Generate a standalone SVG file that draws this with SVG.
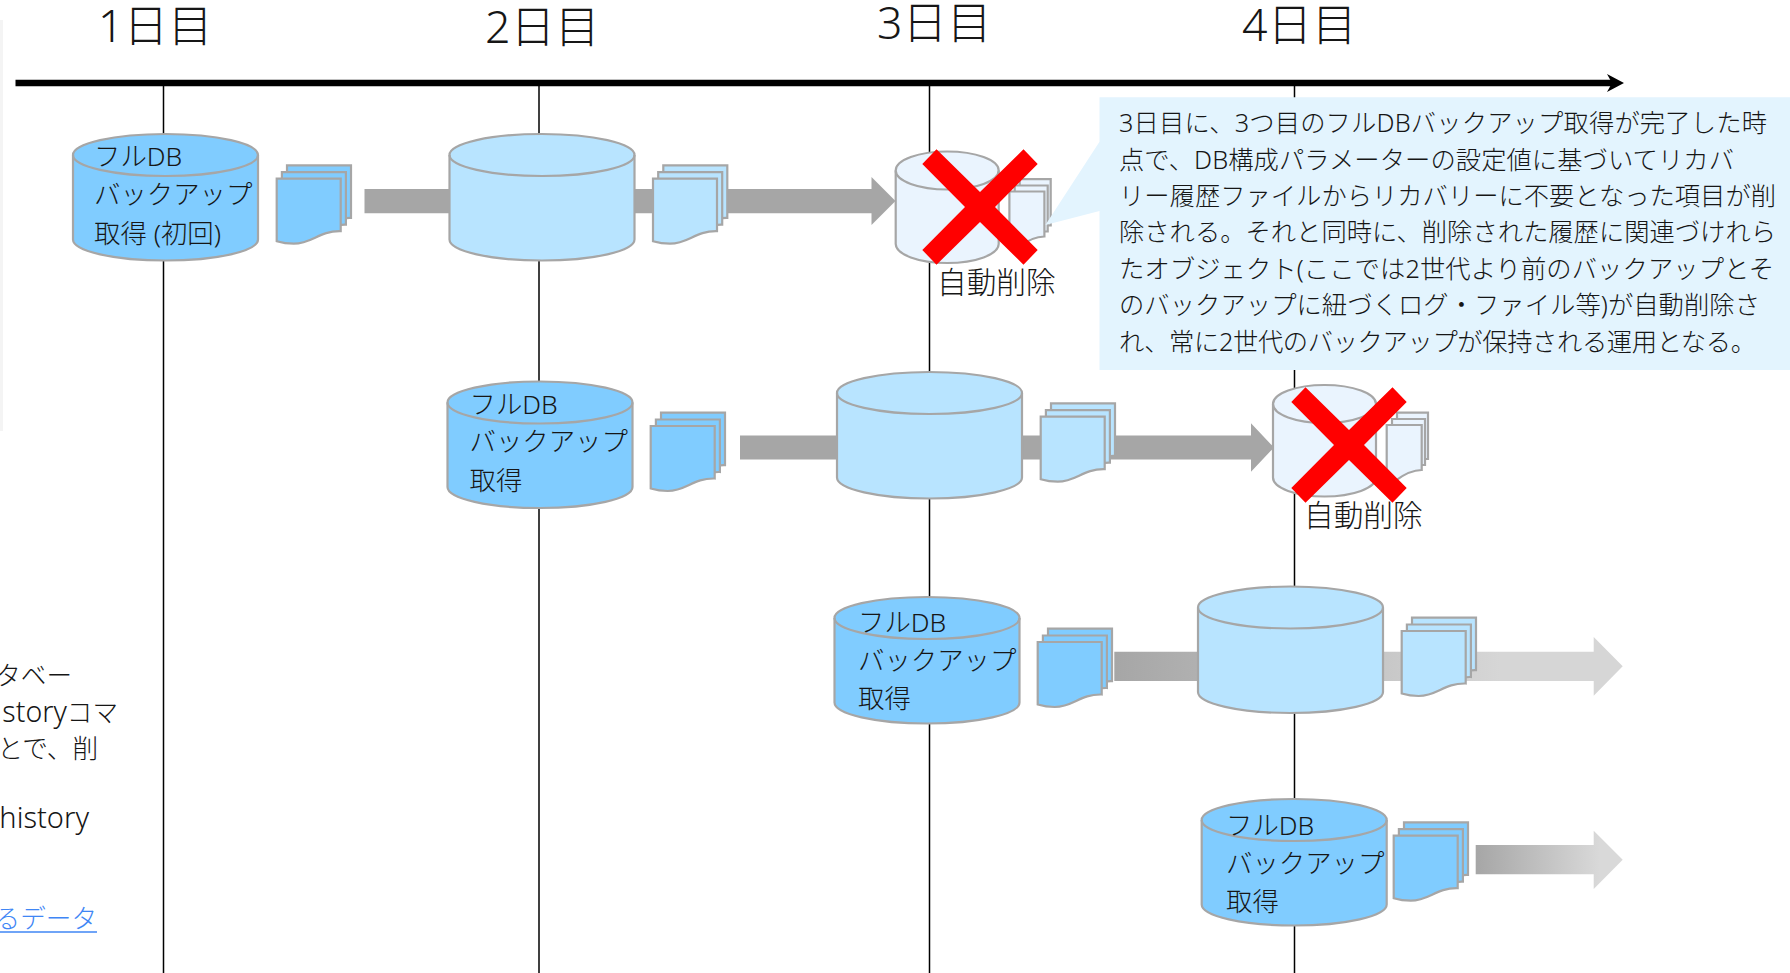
<svg xmlns="http://www.w3.org/2000/svg" xmlns:xlink="http://www.w3.org/1999/xlink" width="1790" height="973" viewBox="0 0 1790 973">
<style>
text{font-family:"Noto Sans","Noto Sans CJK JP",sans-serif;font-weight:300;fill:#161616}
.h{font-size:44.6px}.l{font-size:26.4px}.c{font-size:25.3px}.a{font-size:29.7px}.s{font-size:25.6px;text-anchor:end}
.la{font-size:28.5px}
.o{fill:none;stroke:#a6a6a6;stroke-width:2.2}
.st{stroke:#a6a6a6;stroke-width:2.2;stroke-linejoin:miter}
.dk{fill:#80ccff}.lt{fill:#b8e4ff}.gh{fill:#eaf4fe}
.v{stroke:#000;stroke-width:1.5;fill:none}
.x{fill:#ff0000}
</style>
<defs>
<marker id="tip" markerUnits="userSpaceOnUse" markerWidth="20" markerHeight="20" refX="5" refY="10" orient="auto"><path d="M0 1L17 10L0 19L5 10Z" fill="#000"/></marker>
<linearGradient id="g3" gradientUnits="userSpaceOnUse" x1="1114" y1="0" x2="1500" y2="0"><stop offset="0" stop-color="#a6a6a6"/><stop offset="1" stop-color="#d6d6d6"/></linearGradient>
<linearGradient id="g4" gradientUnits="userSpaceOnUse" x1="1476" y1="0" x2="1600" y2="0"><stop offset="0" stop-color="#a6a6a6"/><stop offset="1" stop-color="#d9d9d9"/></linearGradient>
<path id="page" d="M0 0H64V52.5C42 52 36 65 17 65C10 65 5 64 0 62.5Z"/>
<g id="doc" class="st"><use href="#page" x="10.3" y="-13.3"/><use href="#page" x="5.2" y="-6.5"/><use href="#page"/></g>
<g id="cyl"><path class="st" d="M0 21A92.5 21 0 0 1 185 21V105.5A92.5 21 0 0 1 0 105.5Z"/><path class="o" d="M0 21A92.5 21 0 0 0 185 21"/></g>
<g id="ghost">
<g class="gh st"><path d="M124 27.7H155V74H124Z"/><path d="M119 34H152V80H119Z"/><path d="M113.7 40H148.7V85C138 85 130 90 122 96H113.7Z"/></g>
<path class="gh st" d="M0 19A51.5 19 0 0 1 103 19V92.5A51.5 19 0 0 1 0 92.5Z"/><path class="o" d="M0 19A51.5 19 0 0 0 103 19"/>
</g>
<path id="cross" d="M-57.7 -43L-43.5 -57.7L0 -15L43.5 -57.7L57.7 -43L15 0L57.7 43L43.5 57.7L0 15L-43.5 57.7L-57.7 43L-15 0Z"/>
</defs>
<rect id="panel-edge" x="0" y="20" width="3" height="411" fill="#f4f4f4"/>
<g id="connectors">
<line class="v" x1="163.5" y1="83" x2="163.5" y2="973"/>
<line class="v" x1="539" y1="83" x2="539" y2="973"/>
<line class="v" x1="929.5" y1="83" x2="929.5" y2="973"/>
<line class="v" x1="1294.5" y1="83" x2="1294.5" y2="973"/>
<line x1="15.5" y1="83" x2="1612" y2="83" stroke="#000" stroke-width="6.5" marker-end="url(#tip)"/>
<path fill="#a6a6a6" d="M364.5 189H871.5V177L895.5 201L871.5 225V213.3H364.5Z"/>
<path fill="#a6a6a6" d="M740 435.5H1251V423.3L1274 447.5L1251 471.7V459.6H740Z"/>
<path fill="url(#g3)" d="M1114.3 651.7H1593.7V637L1622.7 666.3L1593.7 695.7V681H1114.3Z"/>
<path fill="url(#g4)" d="M1475.7 845H1593.7V830.7L1622.7 859.7L1593.7 889V874.3H1475.7Z"/>
</g>
<g id="headers">
<text class="h" x="98" y="42">1日目</text>
<text class="h" x="485" y="43">2日目</text>
<text class="h" x="877" y="39">3日目</text>
<text class="h" x="1242" y="41">4日目</text>
</g>
<g id="day1-full"><use href="#cyl" x="73" y="134" class="dk"/><text class="l" x="94" y="166">フルDB</text><text class="l" x="94" y="204">バックアップ</text><text class="l" x="94" y="243">取得 (初回)</text><use href="#doc" x="276.7" y="178.7" class="dk"/></g>
<g id="day1-copy"><use href="#cyl" x="449.5" y="134" class="lt"/><use href="#doc" x="653" y="178.7" class="lt"/></g>
<g id="day1-deleted"><use href="#ghost" x="895.7" y="151.5"/><use href="#cross" x="980" y="207" class="x"/><text class="a" x="937" y="293">自動削除</text></g>
<g id="day2-full"><use href="#cyl" x="447.5" y="381.5" class="dk"/><text class="l" x="469.5" y="414">フルDB</text><text class="l" x="469.5" y="451">バックアップ</text><text class="l" x="469.5" y="490">取得</text><use href="#doc" x="650.7" y="426" class="dk"/></g>
<g id="day2-copy"><use href="#cyl" x="837" y="372" class="lt"/><use href="#doc" x="1040.7" y="416.7" class="lt"/></g>
<g id="day2-deleted"><use href="#ghost" x="1273" y="385"/><use href="#cross" x="1349" y="445" class="x"/><text class="a" x="1304" y="526">自動削除</text></g>
<g id="day3-full"><use href="#cyl" x="834.5" y="597" class="dk"/><text class="l" x="858" y="632">フルDB</text><text class="l" x="858" y="670">バックアップ</text><text class="l" x="858" y="708">取得</text><use href="#doc" x="1037.7" y="642" class="dk"/></g>
<g id="day3-copy"><use href="#cyl" x="1198" y="586.5" class="lt"/><use href="#doc" x="1401.7" y="631" class="lt"/></g>
<g id="day4-full"><use href="#cyl" x="1201.7" y="799" class="dk"/><text class="l" x="1226" y="835">フルDB</text><text class="l" x="1226" y="873">バックアップ</text><text class="l" x="1226" y="911">取得</text><use href="#doc" x="1393.7" y="835.7" class="dk"/></g>
<g id="callout">
<path fill="#e3f4fe" d="M1099.5 97.3H1790V370H1099.5V211L1045.4 225L1099.5 141.7Z"/>
<text class="c" x="1119" y="132" textLength="648" lengthAdjust="spacing">3日目に、3つ目のフルDBバックアップ取得が完了した時</text>
<text class="c" x="1119" y="169" textLength="615" lengthAdjust="spacing">点で、DB構成パラメーターの設定値に基づいてリカバ</text>
<text class="c" x="1119" y="205" textLength="657" lengthAdjust="spacing">リー履歴ファイルからリカバリーに不要となった項目が削</text>
<text class="c" x="1119" y="241" textLength="657" lengthAdjust="spacing">除される。それと同時に、削除された履歴に関連づけれら</text>
<text class="c" x="1119" y="278" textLength="655" lengthAdjust="spacing">たオブジェクト(ここでは2世代より前のバックアップとそ</text>
<text class="c" x="1119" y="314" textLength="641" lengthAdjust="spacing">のバックアップに紐づくログ・ファイル等)が自動削除さ</text>
<text class="c" x="1119" y="351" textLength="637" lengthAdjust="spacing">れ、常に2世代のバックアップが保持される運用となる。</text>
</g>
<g id="left-text">
<text class="s" x="72" y="685">タベー</text>
<text class="s" x="118" y="722"><tspan class="la">story</tspan>コマ</text>
<text class="s" x="98" y="758">とで、削</text>
<text class="s" x="89" y="828" style="font-size:29px">history</text>
<text class="s" x="97" y="928" style="fill:#3f86f5">るデータ</text>
<line x1="0" y1="932" x2="97" y2="932" stroke="#3f86f5" stroke-width="1.5"/>
</g>
</svg>
